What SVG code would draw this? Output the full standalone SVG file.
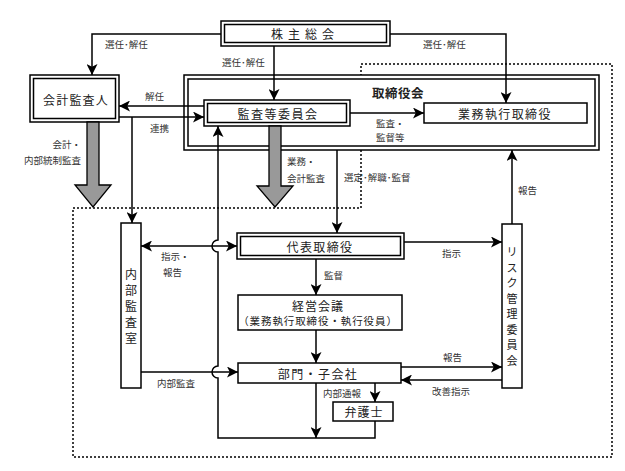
<svg xmlns="http://www.w3.org/2000/svg" width="625" height="471" viewBox="0 0 625 471">
<defs>
<marker id="ah" viewBox="0 0 10 10" refX="10" refY="5" markerWidth="11" markerHeight="11" markerUnits="userSpaceOnUse" orient="auto-start-reverse">
<path d="M0,0 L10,5 L0,10 L2.5,5 z" fill="#000"/>
</marker>
<style>
.b{fill:#fff;stroke:#000;stroke-width:1.5}
.c{fill:none;stroke:#000;stroke-width:1.5}
.a{marker-end:url(#ah)}
.t{font-family:"Noto Sans CJK JP","Noto Sans CJK SC",sans-serif;font-size:12px;fill:#222;text-anchor:middle;dominant-baseline:central}
.v{font-size:11px}
.s{font-family:"Noto Sans CJK JP","Noto Sans CJK SC",sans-serif;font-size:9.5px;fill:#333;dominant-baseline:central}
.g{fill:#999;stroke:#000;stroke-width:1.3}
</style>
</defs>
<rect width="625" height="471" fill="#fff"/>

<!-- dotted region -->
<path d="M361,64 H612 V457 H73 V208 H361 Z" fill="none" stroke="#000" stroke-width="1.5" stroke-dasharray="2,2"/>

<!-- board of directors -->
<g id="board">
<rect class="b" x="184" y="75" width="415" height="75"/>
<rect class="c" x="188" y="79" width="407" height="67"/>
<text class="t" x="372" y="92" style="font-size:12.5px;font-weight:bold;text-anchor:start" letter-spacing="0.5">取締役会</text>
</g>

<g id="shareholders">
<rect class="b" x="221" y="21" width="169" height="25"/>
<rect class="c" x="224.5" y="24.5" width="162" height="18"/>
<text class="t" x="305" y="33.5" letter-spacing="5">株主総会</text>
</g>

<g id="auditor">
<rect class="b" x="30" y="75" width="89" height="47"/>
<rect class="c" x="33.5" y="78.5" width="82" height="40"/>
<text class="t" x="76" y="99" letter-spacing="1.2">会計監査人</text>
</g>

<g id="audit-committee">
<rect class="b" x="204" y="100" width="146" height="26"/>
<rect class="c" x="207.5" y="103.5" width="139" height="19"/>
<text class="t" x="278" y="113" letter-spacing="1.5">監査等委員会</text>
</g>

<g id="exec-directors">
<rect class="b" x="424" y="103" width="163" height="20"/>
<text class="t" x="505" y="113" letter-spacing="1.4">業務執行取締役</text>
</g>

<g id="representative">
<rect class="b" x="237" y="233" width="167" height="26"/>
<rect class="c" x="240.5" y="236.5" width="160" height="19"/>
<text class="t" x="320" y="246" letter-spacing="1.4">代表取締役</text>
</g>

<g id="management-meeting">
<rect class="b" x="238" y="295" width="164" height="35"/>
<text class="t" x="318" y="305" letter-spacing="1">経営会議</text>
<text class="t" x="318" y="320" style="font-size:10.5px" letter-spacing="0.9">（業務執行取締役・執行役員）</text>
</g>

<g id="divisions">
<rect class="b" x="238" y="363" width="163" height="20"/>
<text class="t" x="318" y="373" letter-spacing="1.4">部門・子会社</text>
</g>

<g id="lawyer">
<rect class="b" x="333" y="402" width="60" height="19"/>
<text class="t" x="364" y="411.5" letter-spacing="1">弁護士</text>
</g>

<g id="internal-audit">
<rect class="b" x="121" y="223" width="20" height="165"/>
<g class="t">
<text x="131" y="273">内</text><text x="131" y="289">部</text><text x="131" y="305">監</text><text x="131" y="321">査</text><text x="131" y="337">室</text>
</g>
</g>

<g id="risk-committee">
<rect class="b" x="502" y="224" width="20" height="164"/>
<g class="t v">
<text x="512" y="251">リ</text><text x="512" y="266.5">ス</text><text x="512" y="282">ク</text><text x="512" y="297.5">管</text><text x="512" y="313">理</text><text x="512" y="328.5">委</text><text x="512" y="344">員</text><text x="512" y="359.5">会</text>
</g>
</g>

<!-- gray arrows -->
<g id="gray-arrows">
<path class="g" d="M87,122 V185 H75 L93,207 L111,185 H99 V122 Z"/>
<path class="g" d="M269,126 V186 H257 L275,207 L293,186 H281 V126 Z"/>
</g>

<!-- connectors -->
<g id="connectors">
<path class="c a" d="M221,34 H92 V75"/>
<path class="c a" d="M274,46 V100"/>
<path class="c a" d="M390,34 H506 V103"/>
<path class="c a" d="M204,106 H119"/>
<path class="c a" d="M119,117 H204"/>
<path class="c a" d="M132,117 V223"/>
<path class="c a" d="M350,113 H424"/>
<path class="c a" d="M337,150 V233"/>
<path class="c a" d="M512,224 V150"/>
<path class="c a" d="M141,246 H237" marker-start="url(#ah)"/>
<path class="c a" d="M404,242 H502"/>
<path class="c a" d="M316,259 V295"/>
<path class="c a" d="M316,330 V363"/>
<path class="c a" d="M141,372 H238"/>
<path class="c a" d="M401,367 H502"/>
<path class="c a" d="M502,380 H401"/>
<path class="c a" d="M375,383 V402"/>
<path class="c a" d="M316,383 V438"/>
<path class="c a" d="M375,421 V438 H218 V378 A6,6 0 0 1 218,366 V252 A6,6 0 0 1 218,240 V126"/>
</g>

<!-- labels -->
<g id="labels">
<text class="s" x="105" y="44">選任･解任</text>
<text class="s" x="222" y="62">選任･解任</text>
<text class="s" x="423" y="44">選任･解任</text>
<text class="s" x="145" y="96">解任</text>
<text class="s" x="150" y="128">連携</text>
<text class="s" x="81" y="144" style="text-anchor:end">会計・</text>
<text class="s" x="81" y="160" style="text-anchor:end">内部統制監査</text>
<text class="s" x="287" y="161">業務・</text>
<text class="s" x="287" y="178">会計監査</text>
<text class="s" x="376" y="123">監査・</text>
<text class="s" x="376" y="137">監督等</text>
<text class="s" x="344" y="177">選定･解職･監督</text>
<text class="s" x="518" y="190">報告</text>
<text class="s" x="161" y="256">指示・</text>
<text class="s" x="163" y="272">報告</text>
<text class="s" x="442" y="253">指示</text>
<text class="s" x="324" y="275">監督</text>
<text class="s" x="157" y="383">内部監査</text>
<text class="s" x="443" y="357">報告</text>
<text class="s" x="432" y="391">改善指示</text>
<text class="s" x="323" y="393">内部通報</text>
</g>
</svg>
